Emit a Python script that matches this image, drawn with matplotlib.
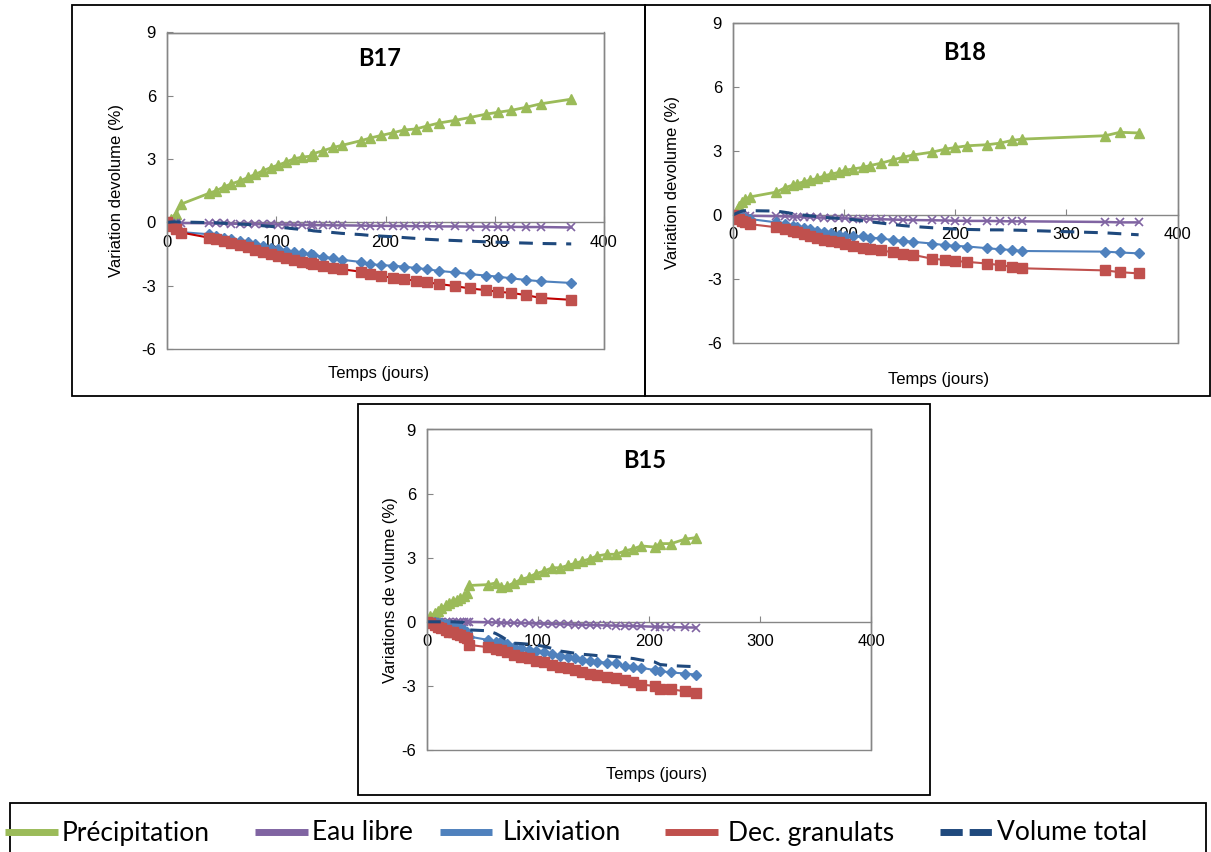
import matplotlib
matplotlib.use("Agg")
import matplotlib.pyplot as plt
from matplotlib.patches import Rectangle
from matplotlib.lines import Line2D

# ---------------- data ----------------
series_names = ["Précipitation", "Eau libre", "Lixiviation", "Dec. granulats", "Volume total"]

# B17
x17 = [0, 4, 8, 13, 38, 45, 52, 59, 67, 74, 81, 88, 95, 102, 109, 116, 124, 132, 134, 143,
       152, 160, 178, 186, 196, 207, 217, 228, 238, 249, 264, 277, 292, 303, 315, 329, 342, 370]
prec17 = [0, 0.15, 0.41, 0.87, 1.37, 1.50, 1.68, 1.83, 1.97, 2.13, 2.28, 2.45, 2.60, 2.72,
          2.86, 3.01, 3.10, 3.14, 3.26, 3.40, 3.55, 3.65, 3.88, 4.00, 4.12, 4.25, 4.38, 4.43,
          4.57, 4.71, 4.84, 4.97, 5.13, 5.22, 5.31, 5.46, 5.62, 5.84]
eau17 = [0, -0.01, -0.02, -0.03, -0.04, -0.05, -0.05, -0.06, -0.07, -0.07, -0.08, -0.09,
         -0.09, -0.10, -0.10, -0.11, -0.12, -0.12, -0.13, -0.13, -0.14, -0.14, -0.15, -0.16,
         -0.16, -0.17, -0.17, -0.18, -0.18, -0.19, -0.19, -0.20, -0.20, -0.21, -0.21, -0.22,
         -0.22, -0.24]
lix17 = [0, -0.15, -0.30, -0.46, -0.56, -0.64, -0.72, -0.80, -0.88, -0.94, -1.04, -1.13,
         -1.21, -1.27, -1.34, -1.41, -1.46, -1.52, -1.55, -1.62, -1.70, -1.77, -1.88, -1.97,
         -2.03, -2.05, -2.10, -2.16, -2.22, -2.30, -2.37, -2.45, -2.52, -2.57, -2.65, -2.73,
         -2.79, -2.87]
dec17 = [0, -0.15, -0.30, -0.48, -0.72, -0.80, -0.88, -0.96, -1.09, -1.18, -1.29, -1.40,
         -1.50, -1.58, -1.69, -1.79, -1.87, -1.93, -1.97, -2.06, -2.17, -2.22, -2.34, -2.46,
         -2.54, -2.63, -2.70, -2.76, -2.84, -2.92, -3.02, -3.13, -3.21, -3.29, -3.34, -3.45,
         -3.58, -3.67]
tot17 = [0, 0.02, 0.03, 0.02, -0.01, -0.02, -0.04, -0.06, -0.08, -0.10, -0.13, -0.16, -0.19,
         -0.22, -0.26, -0.30, -0.34, -0.38, -0.40, -0.44, -0.48, -0.52, -0.58, -0.62, -0.65,
         -0.68, -0.72, -0.76, -0.80, -0.83, -0.86, -0.89, -0.92, -0.94, -0.96, -0.98, -1.00,
         -1.02]

# B18
x18 = [0, 5, 8, 11, 15, 39, 47, 54, 58, 64, 69, 76, 82, 88, 95, 101, 108, 117, 123, 133,
       144, 153, 162, 179, 191, 200, 211, 229, 240, 251, 260, 335, 348, 365]
prec18 = [0, 0.44, 0.60, 0.73, 0.84, 1.07, 1.28, 1.40, 1.47, 1.55, 1.63, 1.71, 1.83, 1.91,
          1.99, 2.10, 2.15, 2.23, 2.31, 2.42, 2.58, 2.70, 2.81, 2.94, 3.08, 3.16, 3.24, 3.29,
          3.36, 3.49, 3.55, 3.71, 3.87, 3.84]
eau18 = [0, -0.01, -0.02, -0.03, -0.04, -0.06, -0.07, -0.08, -0.09, -0.10, -0.11, -0.12,
         -0.13, -0.14, -0.15, -0.16, -0.17, -0.18, -0.19, -0.20, -0.22, -0.23, -0.24, -0.25,
         -0.26, -0.27, -0.28, -0.28, -0.29, -0.30, -0.30, -0.33, -0.35, -0.35]
lix18 = [0, -0.08, -0.12, -0.16, -0.19, -0.35, -0.43, -0.50, -0.55, -0.60, -0.66, -0.74,
         -0.82, -0.87, -0.93, -0.98, -1.01, -1.01, -1.06, -1.10, -1.18, -1.21, -1.26, -1.34,
         -1.42, -1.45, -1.48, -1.56, -1.61, -1.64, -1.69, -1.72, -1.76, -1.80]
dec18 = [0, -0.19, -0.27, -0.35, -0.43, -0.58, -0.66, -0.77, -0.82, -0.90, -0.98, -1.06,
         -1.17, -1.24, -1.29, -1.37, -1.45, -1.56, -1.61, -1.65, -1.76, -1.81, -1.87, -2.05,
         -2.11, -2.16, -2.20, -2.28, -2.35, -2.43, -2.50, -2.60, -2.68, -2.74]
tot18 = [0, 0.12, 0.18, 0.20, 0.20, 0.18, 0.12, 0.06, 0.03, -0.01, -0.04, -0.08, -0.11,
         -0.14, -0.16, -0.19, -0.22, -0.28, -0.32, -0.38, -0.45, -0.50, -0.54, -0.60, -0.64,
         -0.66, -0.68, -0.70, -0.70, -0.71, -0.72, -0.84, -0.88, -0.93]

# B15
x15 = [0, 3, 7, 10, 13, 17, 20, 23, 27, 30, 33, 36, 38, 55, 62, 67, 72, 78, 85, 92, 98, 105,
       113, 120, 127, 133, 140, 147, 153, 162, 170, 178, 186, 193, 205, 210, 220, 232, 242]
prec15 = [0, 0.25, 0.41, 0.52, 0.64, 0.77, 0.88, 0.99, 1.04, 1.12, 1.19, 1.35, 1.70, 1.74,
          1.82, 1.63, 1.66, 1.82, 1.98, 2.10, 2.25, 2.37, 2.53, 2.53, 2.64, 2.73, 2.84, 2.95,
          3.08, 3.16, 3.16, 3.31, 3.42, 3.55, 3.50, 3.66, 3.66, 3.86, 3.94]
eau15 = [0, 0, 0, 0, 0, 0, 0, 0, 0, 0, 0, 0, 0, -0.02, -0.03, -0.04, -0.05, -0.05, -0.06,
         -0.07, -0.08, -0.09, -0.10, -0.11, -0.12, -0.13, -0.14, -0.15, -0.16, -0.17, -0.18,
         -0.19, -0.20, -0.21, -0.23, -0.24, -0.25, -0.26, -0.27]
lix15 = [0, -0.01, -0.03, -0.05, -0.07, -0.10, -0.14, -0.18, -0.24, -0.30, -0.38, -0.46,
         -0.69, -0.85, -0.93, -0.88, -1.05, -1.16, -1.24, -1.32, -1.37, -1.43, -1.51, -1.59,
         -1.63, -1.71, -1.79, -1.84, -1.87, -1.91, -1.95, -2.06, -2.10, -2.15, -2.26, -2.31,
         -2.37, -2.42, -2.47]
dec15 = [0, -0.06, -0.14, -0.22, -0.30, -0.38, -0.46, -0.50, -0.57, -0.61, -0.69, -0.77,
         -1.08, -1.19, -1.29, -1.32, -1.43, -1.55, -1.63, -1.71, -1.84, -1.90, -2.03, -2.10,
         -2.18, -2.26, -2.34, -2.42, -2.50, -2.58, -2.65, -2.73, -2.81, -2.94, -3.00, -3.13,
         -3.16, -3.25, -3.31]
tot15 = [0, 0, 0, 0, 0, 0, 0, 0, -0.01, -0.02, -0.03, -0.20, -0.38, -0.42, -0.55, -0.69,
         -0.85, -1.00, -1.02, -1.05, -1.08, -1.15, -1.25, -1.37, -1.42, -1.47, -1.52, -1.55,
         -1.58, -1.60, -1.63, -1.68, -1.72, -1.79, -1.88, -2.00, -2.05, -2.08, -2.10]

x_ticks = [0, 100, 200, 300, 400]
y_ticks = [-6, -3, 0, 3, 6, 9]

# ---------------- style ----------------
W, H = 1211, 852
C_PREC = "#9BBB59"
C_EAU = "#8064A2"
C_LIX = "#4F81BD"
C_DEC = "#C0504D"
C_TOT = "#1F497D"
GRID = "#868686"

plt.rcParams["font.family"] = ["Liberation Sans", "DejaVu Sans"]
plt.rcParams["axes.unicode_minus"] = False

fig = plt.figure(figsize=(W / 100, H / 100), dpi=100)


def fx(px):
    return px / W


def fy(py):
    return 1 - py / H


def frame(x0, y0, x1, y1, lw=1.3):
    fig.add_artist(Rectangle((fx(x0), fy(y1)), fx(x1) - fx(x0), fy(y0) - fy(y1),
                             fill=False, edgecolor="black", linewidth=lw,
                             transform=fig.transFigure))


def make_panel(rect_px, x, prec, eau, lix, dec, tot, title, title_xy, ylabel, ylabel_x,
               xlabel_xy, dec_line=C_DEC):
    l, t, r, b = rect_px
    ax = fig.add_axes([fx(l), fy(b), fx(r) - fx(l), fy(t) - fy(b)])
    ax.set_xlim(0, 400)
    ax.set_ylim(-6, 9)
    ax.set_xticks(x_ticks)
    ax.set_yticks(y_ticks)
    for s in ["top", "right", "left"]:
        ax.spines[s].set_color(GRID)
        ax.spines[s].set_linewidth(1.0)
    ax.spines["bottom"].set_position(("data", 0))
    ax.spines["bottom"].set_color(GRID)
    ax.spines["bottom"].set_linewidth(1.0)
    ax.add_patch(Rectangle((0, 0), 1, 1, transform=ax.transAxes, fill=False,
                           edgecolor=GRID, linewidth=1.0, zorder=5, clip_on=False))
    ax.tick_params(axis="both", direction="in", length=4, color=GRID,
                   labelsize=12, labelcolor="black")
    ax.tick_params(axis="x", pad=9)
    ax.tick_params(axis="y", pad=8)
    ax.set_facecolor("white")

    ax.plot(x, prec, color=C_PREC, lw=2.0, marker="^", ms=7, mec=C_PREC, mfc=C_PREC, zorder=3)
    ax.plot(x, eau, color=C_EAU, lw=1.8, marker="x", ms=5.5, mew=1.2, mec=C_EAU, zorder=3)
    ax.plot(x, lix, color=C_LIX, lw=1.5, marker="D", ms=5, mec=C_LIX, mfc=C_LIX, zorder=3)
    ax.plot(x, dec, color=dec_line, lw=1.5, marker="s", ms=6.5, mec=C_DEC, mfc=C_DEC, zorder=3)
    ax.plot(x, tot, color=C_TOT, lw=2.2, ls=(0, (4.5, 3.2)), zorder=4)

    fig.text(fx(title_xy[0]), fy(title_xy[1]), title, ha="center", va="center",
             fontsize=17, fontweight="bold", family=["Lato", "DejaVu Sans"])
    fig.text(fx(ylabel_x), fy((t + b) / 2), ylabel, rotation=90, ha="center",
             va="center", fontsize=12)
    fig.text(fx(xlabel_xy[0]), fy(xlabel_xy[1]), "Temps (jours)", ha="center",
             va="center", fontsize=12)
    return ax


# frames
frame(72, 5, 645, 396)
frame(645, 5, 1210, 396)
frame(358, 404, 930, 795)

make_panel((167, 32.5, 604, 349), x17, prec17, eau17, lix17, dec17, tot17,
           "B17", (380, 58), "Variation devolume (%)", 116, (379, 373), dec_line="#C00000")
make_panel((733, 22.8, 1177.5, 343), x18, prec18, eau18, lix18, dec18, tot18,
           "B18", (965, 53), "Variation devolume (%)", 673, (939, 379))
make_panel((427, 429.5, 871, 750), x15, prec15, eau15, lix15, dec15, tot15,
           "B15", (645, 460), "Variations de volume (%)", 390, (657, 775))

# legend box
fig.add_artist(Rectangle((fx(10), fy(860)), fx(1206) - fx(10), fy(803) - fy(860),
                         fill=False, edgecolor="black", linewidth=1.3,
                         transform=fig.transFigure, clip_on=False))

leg_items = [
    (series_names[0], C_PREC, "-", 5, 58, 62),
    (series_names[1], C_EAU, "-", 255, 308, 312),
    (series_names[2], C_LIX, "-", 440, 492, 503),
    (series_names[3], C_DEC, "-", 665, 718, 728),
    (series_names[4], C_TOT, "--", 940, 995, 997),
]
ly = 832
for name, col, ls, h0, h1, tx in leg_items:
    if ls == "--":
        ln = Line2D([fx(h0), fx(h1)], [fy(ly), fy(ly)], color=col, lw=5,
                    linestyle=(0, (3.2, 1.0)), transform=fig.transFigure)
    else:
        ln = Line2D([fx(h0), fx(h1)], [fy(ly), fy(ly)], color=col, lw=5,
                    transform=fig.transFigure, solid_capstyle="butt")
    fig.add_artist(ln)
    fig.text(fx(tx), fy(ly + 1), name, ha="left", va="center", fontsize=19,
             family=["Lato", "DejaVu Sans"])

fig.savefig("out.png", dpi=100, facecolor="white")
